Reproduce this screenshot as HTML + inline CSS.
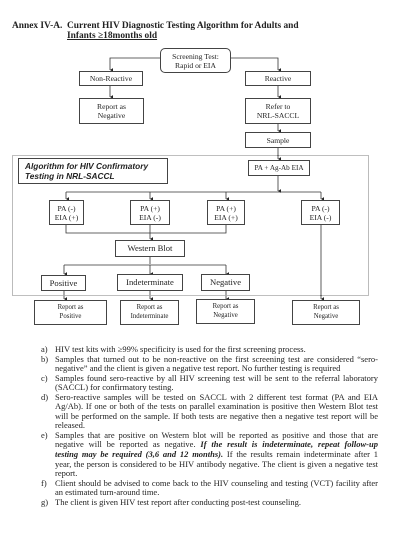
<!DOCTYPE html>
<html><head><meta charset="utf-8"><style>
body{margin:0;width:412px;height:542px;background:#fff;position:relative;overflow:hidden;font-family:"Liberation Serif",serif;color:#222}
.b{position:absolute;border:1px solid #444;box-sizing:border-box;display:flex;align-items:center;justify-content:center;text-align:center;font-size:7.6px;line-height:9px;background:#fff;white-space:nowrap}
.t{position:absolute;font-weight:bold;font-size:9.4px;white-space:nowrap}
svg{position:absolute;left:0;top:0}
.list{position:absolute;left:41px;top:345px;width:337px;font-size:8.5px;line-height:9.56px}
.list div{position:relative;padding-left:14px;white-space:nowrap;height:9.56px}
.list div.j{text-align:justify;text-align-last:justify;white-space:normal;overflow:hidden}
.list span.m{position:absolute;left:0}
</style></head><body>
<svg width="412" height="542">
<defs><marker id="a" markerWidth="5" markerHeight="5" refX="2.5" refY="4" orient="auto"><path d="M0,0 L5,0 L2.5,4z" fill="#222"/></marker></defs>
<g stroke="#333" stroke-width="0.8" fill="none">
<path d="M160,58 H110 V70" marker-end="url(#a)"/>
<path d="M230,58 H278 V70" marker-end="url(#a)"/>
<path d="M110,86 V97" marker-end="url(#a)"/>
<path d="M278,86 V97" marker-end="url(#a)"/>
<path d="M278,124 V131" marker-end="url(#a)"/>
<path d="M278,148 V159" marker-end="url(#a)"/>
<path d="M278,176 V191" marker-end="url(#a)"/>
<path d="M66,192 H321"/>
<path d="M66,192 V199" marker-end="url(#a)"/>
<path d="M150,192 V199" marker-end="url(#a)"/>
<path d="M226,192 V199" marker-end="url(#a)"/>
<path d="M321,192 V199" marker-end="url(#a)"/>
<path d="M66,225 V233 H226 V225"/>
<path d="M150,225 V239" marker-end="url(#a)"/>
<path d="M150,257 V264"/>
<path d="M64,265 H226"/>
<path d="M64,265 V274" marker-end="url(#a)"/>
<path d="M150,265 V274" marker-end="url(#a)"/>
<path d="M226,265 V274" marker-end="url(#a)"/>
<path d="M64,291 V299" marker-end="url(#a)"/>
<path d="M150,291 V299" marker-end="url(#a)"/>
<path d="M226,291 V299" marker-end="url(#a)"/>
<path d="M321,225 V299" marker-end="url(#a)"/>
</g>
<rect x="12.5" y="155.5" width="356" height="140" fill="none" stroke="#555" stroke-width="0.8" stroke-dasharray="1,1"/>
</svg>
<div class="t" style="left:12px;top:21px">Annex IV-A.&nbsp; Current HIV Diagnostic Testing Algorithm for Adults and</div>
<div class="t" style="left:67px;top:31px;text-decoration:underline">Infants ≥18months old</div>
<div class="b" style="left:160px;top:48px;width:71px;height:25px;border-radius:5px">Screening Test:<br>Rapid or EIA</div>
<div class="b" style="left:79px;top:71px;width:64px;height:15px">Non-Reactive</div>
<div class="b" style="left:245px;top:71px;width:66px;height:15px">Reactive</div>
<div class="b" style="left:79px;top:98px;width:65px;height:26px">Report as<br>Negative</div>
<div class="b" style="left:245px;top:98px;width:66px;height:26px">Refer to<br>NRL-SACCL</div>
<div class="b" style="left:245px;top:132px;width:66px;height:16px">Sample</div>
<div class="b" style="left:18px;top:158px;width:150px;height:26px;justify-content:flex-start;text-align:left;padding-left:6px;font-family:'Liberation Sans',sans-serif;font-weight:bold;font-style:italic;font-size:8.3px;line-height:10px">Algorithm for HIV Confirmatory<br>Testing in NRL-SACCL</div>
<div class="b" style="left:248px;top:160px;width:62px;height:16px;font-size:7.2px">PA + Ag-Ab EIA</div>
<div class="b" style="left:49px;top:200px;width:35px;height:25px">PA (-)<br>EIA (+)</div>
<div class="b" style="left:130px;top:200px;width:40px;height:25px">PA (+)<br>EIA (-)</div>
<div class="b" style="left:207px;top:200px;width:38px;height:25px">PA (+)<br>EIA (+)</div>
<div class="b" style="left:301px;top:200px;width:39px;height:25px">PA (-)<br>EIA (-)</div>
<div class="b" style="left:115px;top:240px;width:70px;height:17px;font-size:8.6px">Western Blot</div>
<div class="b" style="left:41px;top:275px;width:45px;height:16px;font-size:8.6px">Positive</div>
<div class="b" style="left:117px;top:274px;width:66px;height:17px;font-size:8.6px">Indeterminate</div>
<div class="b" style="left:201px;top:274px;width:49px;height:17px;font-size:8.6px">Negative</div>
<div class="b" style="left:34px;top:300px;width:73px;height:25px;font-size:6.8px;line-height:8.5px">Report as<br>Positive</div>
<div class="b" style="left:120px;top:300px;width:59px;height:25px;font-size:6.8px;line-height:8.5px">Report as<br>Indeterminate</div>
<div class="b" style="left:196px;top:299px;width:59px;height:25px;font-size:6.8px;line-height:8.5px">Report as<br>Negative</div>
<div class="b" style="left:292px;top:300px;width:68px;height:25px;font-size:6.8px;line-height:8.5px">Report as<br>Negative</div>
<div class="list">
<div><span class="m">a)</span>HIV test kits with ≥99% specificity is used for the first screening process.</div>
<div class="j"><span class="m">b)</span>Samples that turned out to be non-reactive on the first screening test are considered “sero-</div>
<div>negative” and the client is given a negative test report. No further testing is required</div>
<div class="j"><span class="m">c)</span>Samples found sero-reactive by all HIV screening test will be sent to the referral laboratory</div>
<div>(SACCL) for confirmatory testing.</div>
<div class="j"><span class="m">d)</span>Sero-reactive samples will be tested on SACCL with 2 different test format (PA and EIA</div>
<div class="j">Ag/Ab). If one or both of the tests on parallel examination is positive then Western Blot test</div>
<div class="j">will be performed on the sample. If both tests are negative then a negative test report will be</div>
<div>released.</div>
<div class="j"><span class="m">e)</span>Samples that are positive on Western blot will be reported as positive and those that are</div>
<div class="j">negative will be reported as negative. <b><i>If the result is indeterminate, repeat follow-up</i></b></div>
<div class="j"><b><i>testing may be required (3,6 and 12 months).</i></b> If the results remain indeterminate after 1</div>
<div class="j">year, the person is considered to be HIV antibody negative. The client is given a negative test</div>
<div>report.</div>
<div class="j"><span class="m">f)</span>Client should be advised to come back to the HIV counseling and testing (VCT) facility after</div>
<div>an estimated turn-around time.</div>
<div><span class="m">g)</span>The client is given HIV test report after conducting post-test counseling.</div>
</div>
</body></html>
